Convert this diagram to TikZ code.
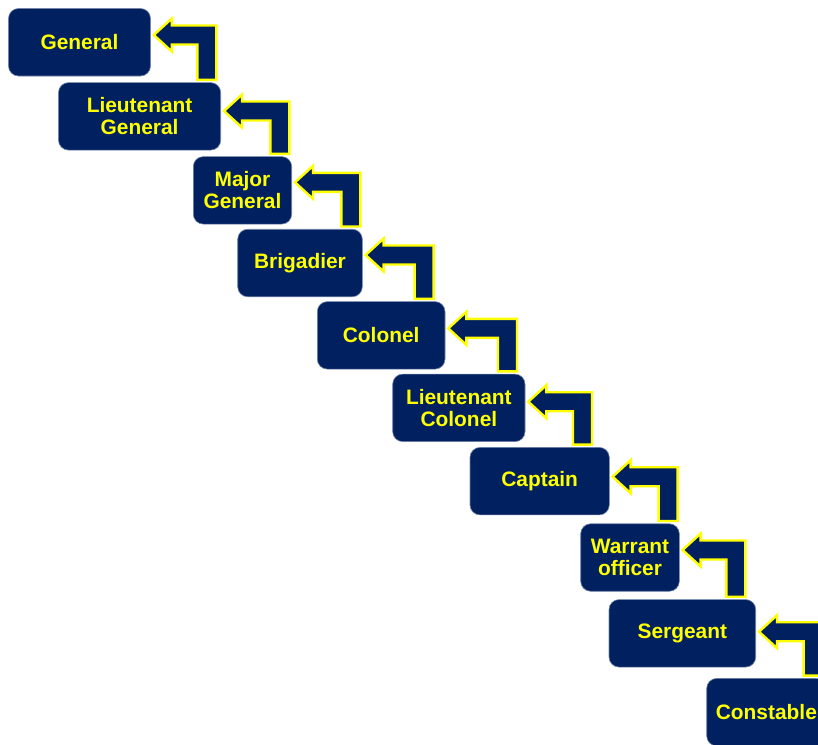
\documentclass[tikz,border=0pt]{standalone}
\usepackage{fontspec}
\setmainfont{Liberation Sans}
\usetikzlibrary{calc}

\definecolor{rankblue}{HTML}{002060}
\definecolor{rankyellow}{HTML}{FFFF00}

\tikzset{
  rankbox/.style={
    fill=rankblue, draw=rankblue!55!white, line width=0.6pt,
    rounded corners=10pt, minimum height=67.5pt, inner sep=0pt,
    text=rankyellow, align=center,
    font=\bfseries\fontsize{20.9}{22}\selectfont},
  bentarrow/.style={
    fill=rankblue, draw=rankyellow, line width=2.4pt, line join=miter}
}

% Bent arrow from the top of #2 round to the right side of #1.
% #3: vertical offset of the tip from #1's centre, #4: x offset of the
% outer edge of the rising shaft from #2's top right corner.
\newcommand{\rankarrow}[4]{%
  \path[bentarrow] let \p1=($(#1.east)+(3,#3)$), \p2=($(#2.north east)+(#4,0)$) in
    (\x1,\y1) -- ({\x1+18pt},{\y1+16.5pt}) -- ({\x1+18pt},{\y1+9.5pt})
    -- ({\x2},{\y1+9.5pt}) -- ({\x2},{\y2+2.5pt}) -- ({\x2-19pt},{\y2+2.5pt})
    -- ({\x2-19pt},{\y1-9.5pt}) -- ({\x1+18pt},{\y1-9.5pt})
    -- ({\x1+18pt},{\y1-16.5pt}) -- cycle;}

\begin{document}
\begin{tikzpicture}[x=1pt,y=-1pt]
  \useasboundingbox (0,0) rectangle (818,744);
  \clip (0,0) rectangle (818,744);

  % ranks, top to bottom
  \node[rankbox, minimum width=142pt]   (gen)  at (79.5,42.25)   {General};
  \node[rankbox, minimum width=162.2pt] (ltg)  at (139.6,116.35) {Lieutenant\\General};
  \node[rankbox, minimum width=98.4pt]  (mjg)  at (242.5,190.35) {Major\\General};
  \node[rankbox, minimum width=124.6pt] (brig) at (300,263)      {Brigadier};
  \node[rankbox, minimum width=127.7pt] (col)  at (381.15,335.35){Colonel};
  \node[rankbox, minimum width=132.3pt] (ltc)  at (458.85,407.85){Lieutenant\\Colonel};
  \node[rankbox, minimum width=139.3pt] (cpt)  at (539.65,481.15){Captain};
  \node[rankbox, minimum width=98.6pt]  (wo)   at (630,557.5)    {Warrant\\officer};
  \node[rankbox, minimum width=146.7pt] (sgt)  at (682.35,633.3) {Sergeant};
  \node[rankbox, minimum width=119.3pt] (cst)  at (766.35,712.15){Constable};

  % promotion arrows
  \rankarrow{gen}{ltg}{-7.25}{-4.7}
  \rankarrow{ltg}{mjg}{-5.35}{-2.7}
  \rankarrow{mjg}{brig}{-8}{-2.3}
  \rankarrow{brig}{col}{-8}{-11.7}
  \rankarrow{col}{ltc}{-7}{-8.3}
  \rankarrow{ltc}{cpt}{-6.15}{-17.6}
  \rankarrow{cpt}{wo}{-4.45}{-2}
  \rankarrow{wo}{sgt}{-7.5}{-10.7}
  \rankarrow{sgt}{cst}{-1.6}{-3.7}
\end{tikzpicture}
\end{document}
